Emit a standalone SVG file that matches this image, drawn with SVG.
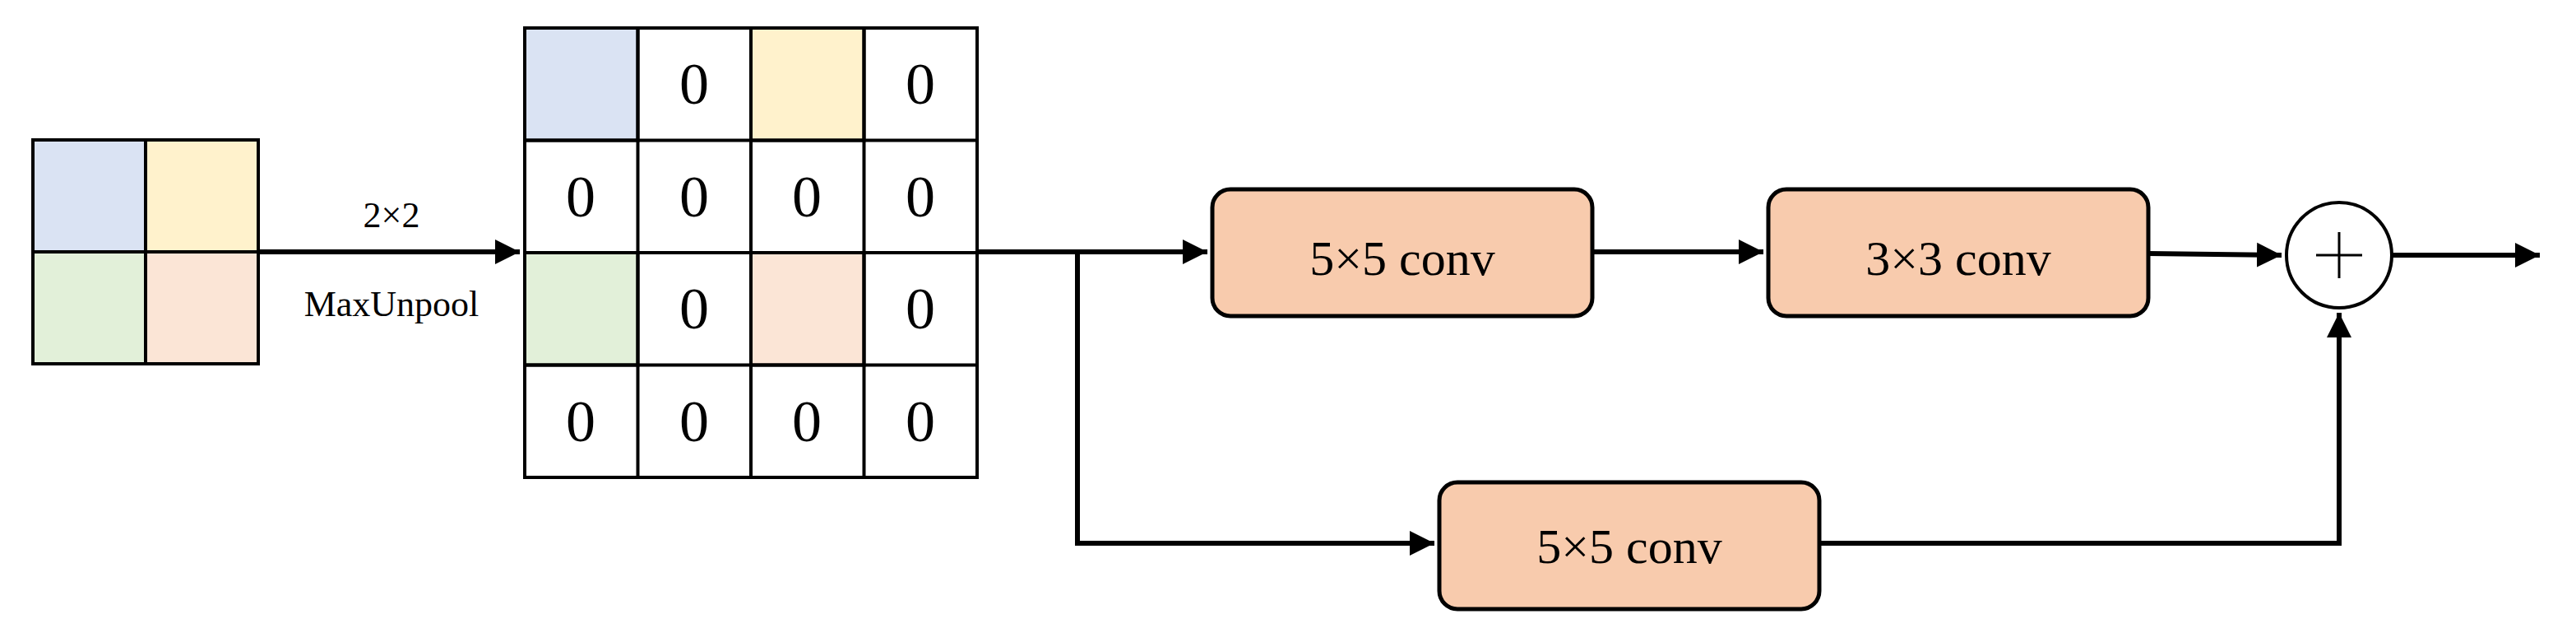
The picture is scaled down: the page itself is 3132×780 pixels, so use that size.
<svg xmlns="http://www.w3.org/2000/svg" width="3132" height="780" viewBox="0 0 3132 780">
<style>
.g{stroke:#000;stroke-width:4;}
.z{font-family:"Liberation Serif",serif;font-size:72px;text-anchor:middle;dominant-baseline:central;}
.t{font-family:"Liberation Serif",serif;font-size:60px;text-anchor:middle;dominant-baseline:central;}
.l{font-family:"Liberation Serif",serif;font-size:44px;text-anchor:middle;}
.box{fill:#f8cbad;stroke:#000;stroke-width:5;}
.c{fill:none;stroke:#000;stroke-width:6;}
</style>
<defs><marker id="a" markerWidth="6" markerHeight="6" refX="5" refY="3" orient="auto" markerUnits="strokeWidth"><path d="M0,0.5 L5,3 L0,5.5Z" fill="#000"/></marker></defs>
<rect width="3132" height="780" fill="#fff"/>
<g id="input">
<rect x="40" y="170" width="137" height="136" fill="#dae3f3" class="g"/>
<rect x="177" y="170" width="137" height="136" fill="#fff2cc" class="g"/>
<rect x="40" y="306" width="137" height="136" fill="#e2f0d9" class="g"/>
<rect x="177" y="306" width="137" height="136" fill="#fbe5d6" class="g"/>
</g>
<g id="unpooled">
<rect x="638" y="34" width="550" height="546" fill="#fff" class="g"/>
<rect x="638" y="34" width="137.5" height="136.5" fill="#dae3f3" class="g"/>
<rect x="913" y="34" width="137.5" height="136.5" fill="#fff2cc" class="g"/>
<rect x="638" y="307" width="137.5" height="136.5" fill="#e2f0d9" class="g"/>
<rect x="913" y="307" width="137.5" height="136.5" fill="#fbe5d6" class="g"/>
<path class="g" d="M775.5,34V580M913,34V580M1050.5,34V580M638,170.5H1188M638,307H1188M638,443.5H1188"/>
<text class="z" x="844" y="102">0</text><text class="z" x="1119" y="102">0</text>
<text class="z" x="706" y="239">0</text><text class="z" x="844" y="239">0</text><text class="z" x="981" y="239">0</text><text class="z" x="1119" y="239">0</text>
<text class="z" x="844" y="375">0</text><text class="z" x="1119" y="375">0</text>
<text class="z" x="706" y="512">0</text><text class="z" x="844" y="512">0</text><text class="z" x="981" y="512">0</text><text class="z" x="1119" y="512">0</text>
</g>
<g id="conv1"><rect class="box" x="1474" y="230" width="462" height="154" rx="22"/><text class="t" x="1705" y="314">5×5 conv</text></g>
<g id="conv2"><rect class="box" x="2150" y="230" width="462" height="154" rx="22"/><text class="t" x="2381" y="314">3×3 conv</text></g>
<g id="conv3"><rect class="box" x="1750" y="586" width="462" height="154" rx="22"/><text class="t" x="1981" y="664">5×5 conv</text></g>
<g id="add"><circle cx="2844" cy="310" r="64" fill="#fff" stroke="#000" stroke-width="4"/><path d="M2844,282V338M2816,310H2872" stroke="#000" stroke-width="3"/></g>
<g id="connectors">
<path class="c" d="M314,306H632" marker-end="url(#a)"/>
<path class="c" d="M1188,306H1468" marker-end="url(#a)"/>
<path class="c" d="M1310,306V660H1744" marker-end="url(#a)"/>
<path class="c" d="M1936,306H2144" marker-end="url(#a)"/>
<path class="c" d="M2612,308L2774,310" marker-end="url(#a)"/>
<path class="c" d="M2212,660H2844V380" marker-end="url(#a)"/>
<path class="c" d="M2908,310H3088" marker-end="url(#a)"/>
<text class="l" x="476" y="276">2×2</text>
<text class="l" x="476" y="384">MaxUnpool</text>
</g>
</svg>
